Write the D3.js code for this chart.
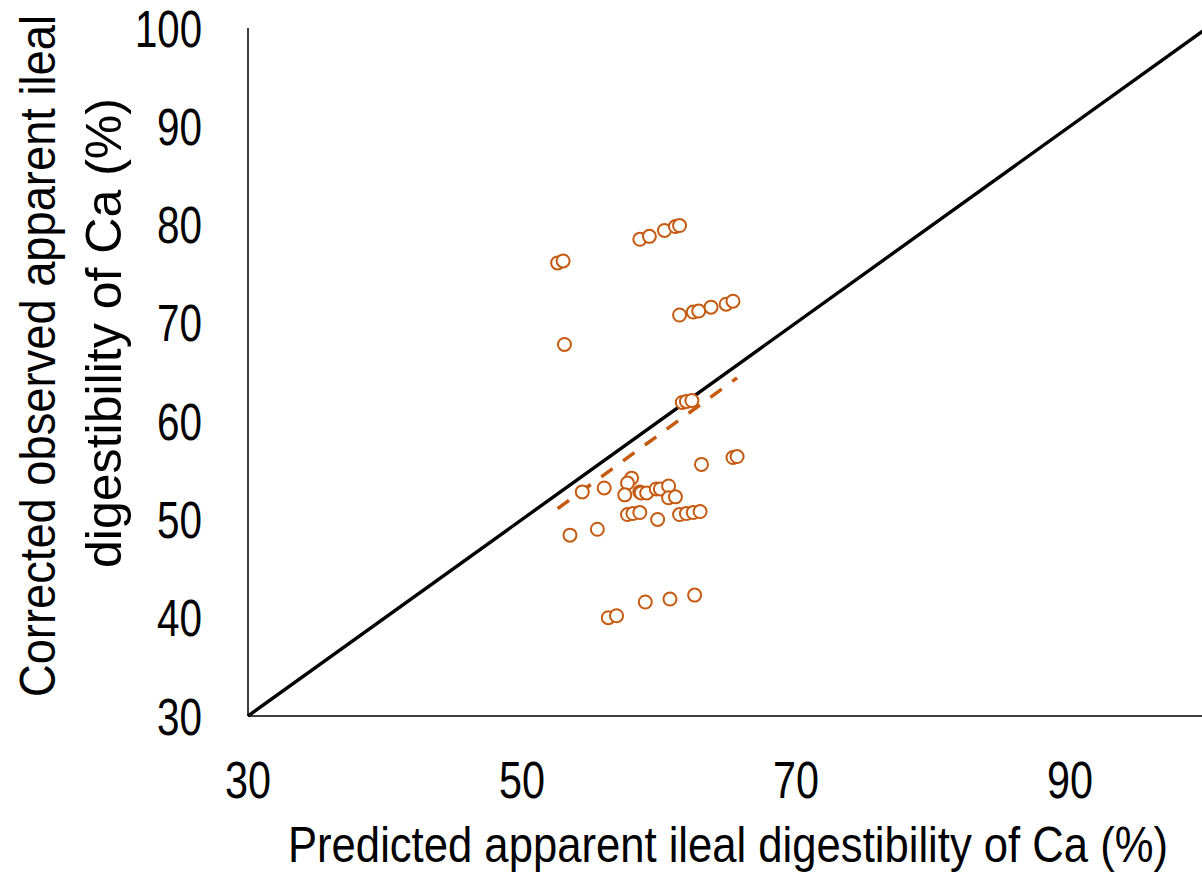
<!DOCTYPE html>
<html>
<head>
<meta charset="utf-8">
<script src="https://cdn.jsdelivr.net/npm/d3@7"></script>
<style>
  body { margin: 0; background: #fff; }
  text { font-family: "Liberation Sans Narrow", "Arial Narrow", "Liberation Sans", Arial, sans-serif; fill: #000; }
</style>
</head>
<body>
<svg id="chart" width="1202" height="875"></svg>
<script>
// predicted (x) vs corrected observed (y) AID of Ca, %
const predicted = [
  52.6, 53.0, 58.6, 59.3, 60.4, 61.2, 61.5,
  61.5, 62.5, 62.9, 63.8, 64.9, 65.4,
  53.1,
  61.7, 62.0, 62.4,
  63.1, 65.4, 65.7,
  54.4, 56.0, 58.0, 57.7, 57.5, 58.6, 58.7, 59.1, 59.8, 60.1, 60.7, 60.7, 61.2,
  57.7, 58.1, 58.6, 59.9, 61.5, 62.0, 62.5, 63.0,
  53.5, 55.5,
  56.3, 56.9, 59.0, 60.8, 62.6
];
const observed = [
  76.1, 76.3, 78.5, 78.8, 79.4, 79.8, 79.9,
  70.8, 71.1, 71.2, 71.6, 71.9, 72.2,
  67.8,
  61.9, 62.0, 62.1,
  55.6, 56.3, 56.4,
  52.8, 53.2, 54.2, 53.7, 52.5, 52.8, 52.7, 52.7, 53.1, 53.1, 53.4, 52.2, 52.3,
  50.5, 50.6, 50.7, 50.0, 50.5, 50.6, 50.7, 50.8,
  48.4, 49.0,
  40.0, 40.2, 41.6, 41.9, 42.3
];
const trendX = [52.6, 65.7];
const trendY = [51.1, 64.4];
const xTicks = [30, 50, 70, 90];
const yTicks = [30, 40, 50, 60, 70, 80, 90, 100];

const svg = d3.select('#chart');
const x = d3.scaleLinear().domain([30, 100]).range([248, 1207]);
const y = d3.scaleLinear().domain([30, 100]).range([716, 28]);
const orange = '#C55A11';

svg.append('clipPath').attr('id', 'clip')
  .append('rect').attr('x', 0).attr('y', 0).attr('width', 1202).attr('height', 875);

const plot = svg.append('g').attr('clip-path', 'url(#clip)');

// axes lines
plot.append('line')
  .attr('x1', x(30)).attr('x2', x(100)).attr('y1', y(30)).attr('y2', y(30))
  .attr('stroke', '#000').attr('stroke-width', 1.5);
plot.append('line')
  .attr('x1', x(30)).attr('x2', x(30)).attr('y1', y(30)).attr('y2', y(100))
  .attr('stroke', '#000').attr('stroke-width', 1.5);

// 1:1 line
plot.append('line')
  .attr('x1', x(30)).attr('y1', y(30)).attr('x2', x(100)).attr('y2', y(100))
  .attr('stroke', '#000').attr('stroke-width', 3.4);

// trend line
plot.append('line')
  .attr('x1', x(trendX[0])).attr('y1', y(trendY[0]))
  .attr('x2', x(trendX[1])).attr('y2', y(trendY[1]))
  .attr('stroke', orange).attr('stroke-width', 3.5)
  .attr('stroke-dasharray', '14 13');

// points
plot.selectAll('circle.pt')
  .data(d3.range(predicted.length))
  .enter()
  .append('circle')
  .attr('class', 'pt')
  .attr('cx', i => x(predicted[i]))
  .attr('cy', i => y(observed[i]))
  .attr('r', 6.5)
  .attr('fill', '#fff')
  .attr('stroke', orange)
  .attr('stroke-width', 2);

// tick labels
svg.selectAll('text.xt')
  .data(xTicks)
  .enter()
  .append('text')
  .attr('class', 'xt')
  .attr('x', d => x(d))
  .attr('y', 798)
  .attr('text-anchor', 'middle')
  .attr('font-size', 51)
  .attr('textLength', 46)
  .attr('lengthAdjust', 'spacingAndGlyphs')
  .text(d => d);

svg.selectAll('text.yt')
  .data(yTicks)
  .enter()
  .append('text')
  .attr('class', 'yt')
  .attr('x', 202)
  .attr('y', d => y(d) + 18.5)
  .attr('text-anchor', 'end')
  .attr('font-size', 51)
  .attr('textLength', d => d === 100 ? 67 : 45)
  .attr('lengthAdjust', 'spacingAndGlyphs')
  .text(d => d);

// axis titles
svg.append('text')
  .attr('x', 288).attr('y', 862)
  .attr('font-size', 50)
  .attr('textLength', 880)
  .attr('lengthAdjust', 'spacingAndGlyphs')
  .text('Predicted apparent ileal digestibility of Ca (%)');

svg.append('text')
  .attr('transform', 'translate(55,697) rotate(-90)')
  .attr('font-size', 50)
  .attr('textLength', 682)
  .attr('lengthAdjust', 'spacingAndGlyphs')
  .text('Corrected observed apparent ileal');

svg.append('text')
  .attr('transform', 'translate(121,568) rotate(-90)')
  .attr('font-size', 50)
  .attr('textLength', 470)
  .attr('lengthAdjust', 'spacingAndGlyphs')
  .text('digestibility of Ca (%)');
</script>
</body>
</html>
